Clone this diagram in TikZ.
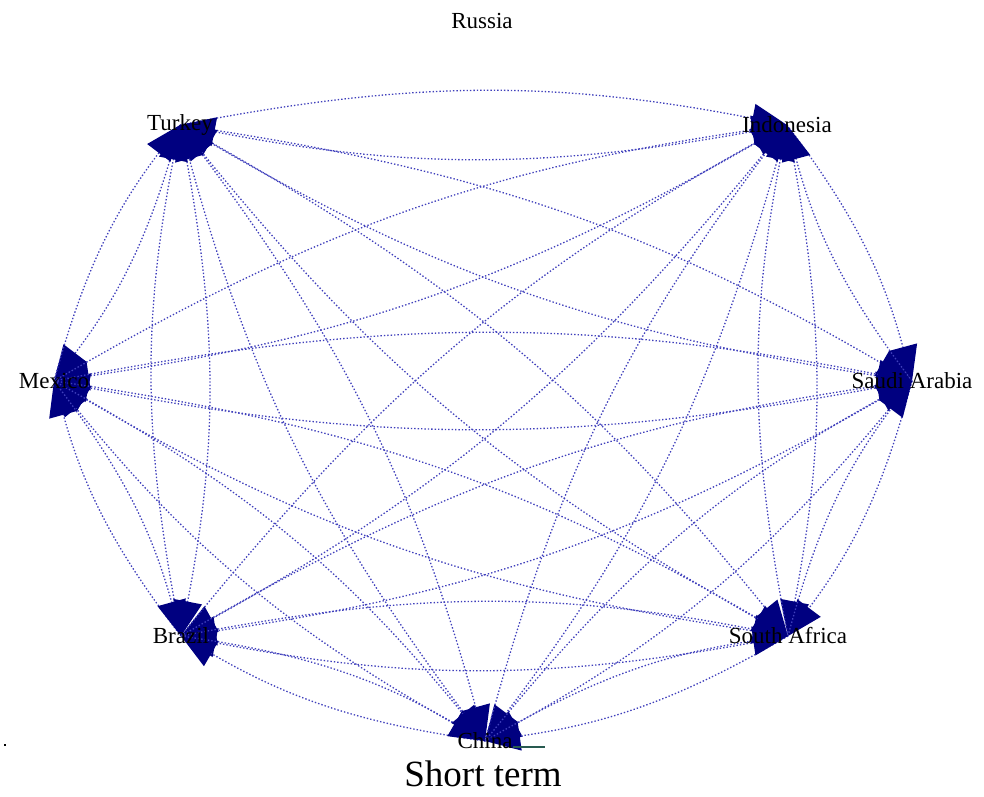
\documentclass[tikz,border=0pt]{standalone}
\usepackage{fontspec}
\setmainfont{Liberation Serif}
\usetikzlibrary{arrows.meta,backgrounds}
\definecolor{edgeblue}{RGB}{64,64,188}
\definecolor{arrownavy}{RGB}{0,0,128}
\definecolor{tickgreen}{RGB}{40,90,80}
\tikzset{
  country/.style={font=\fontsize{23}{25}\selectfont,inner sep=0pt},
  flow edge/.style={draw=edgeblue,line width=1.3pt,dash pattern=on 1.4pt off 2pt,
    -{Triangle[length=35pt,width=29pt,color=arrownavy]}},
  caption text/.style={font=\fontsize{37}{39}\selectfont,inner sep=0pt}
}

\begin{document}
\begin{tikzpicture}[x=1pt,y=-1pt]
  \useasboundingbox (0,0) rectangle (984,796);

  % countries on the ring
  \node[country] (rus) at (482,21) {Russia};
  \node[country] (tur) at (180,125) {Turkey};
  \node[country] (ind) at (787,125) {Indonesia};
  \node[country] (mex) at (54,381) {Mexico};
  \node[country] (sau) at (912,381) {Saudi Arabia};
  \node[country] (bra) at (181,636) {Brazil};
  \node[country] (saf) at (788,636) {South Africa};
  \node[country] (chn) at (485,741) {China};

  % every ordered pair, mutual edges bent apart
  \begin{pgfonlayer}{background}
  \foreach \src in {tur,ind,sau,saf,chn,bra,mex} {
    \foreach \dst in {tur,ind,sau,saf,chn,bra,mex} {
      \ifx\src\dst\else
        \draw[flow edge] (\src.center) to[bend left=11] (\dst.center);
      \fi
    }
  }
  \end{pgfonlayer}

  \draw[tickgreen,line width=1.2pt] (chn.east) ++(0,6) coordinate (chnend) -- ++(32,0);
  \fill[black] (4,744) rectangle (6,746);

  \node[caption text,anchor=base] (cap) at (483,786) {Short term};
\end{tikzpicture}
\end{document}
